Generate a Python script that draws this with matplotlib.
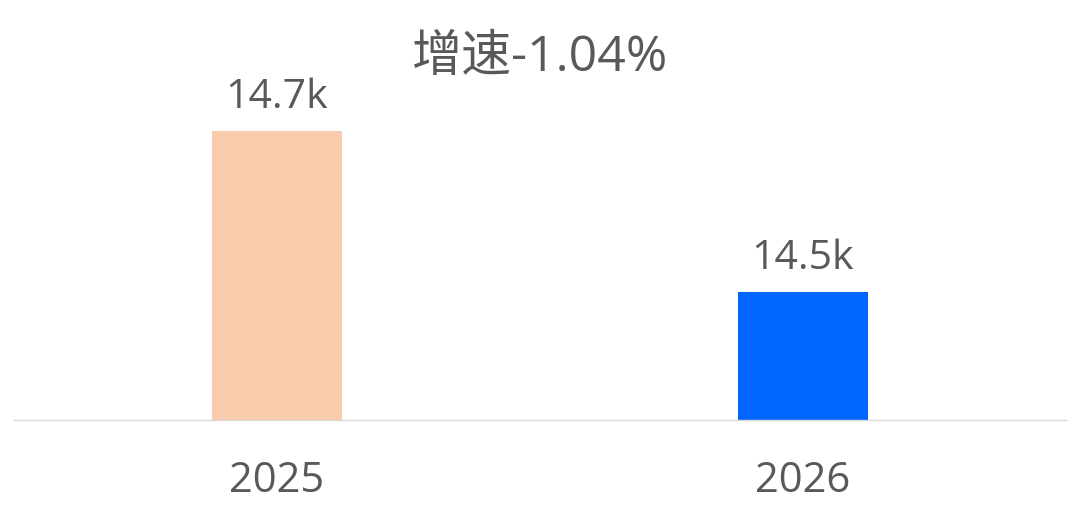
import matplotlib
matplotlib.use('Agg')
import matplotlib.pyplot as plt

years = ['2025', '2026']
values = [14700, 14547]
labels = ['14.7k', '14.5k']
colors = ['#F8CBAD', '#0066FF']
title = '增速-1.04%'

plt.rcParams['font.family'] = ['Open Sans', 'Noto Sans CJK SC', 'DejaVu Sans']
text_color = '#595959'

fig = plt.figure(figsize=(10.8, 5.1), dpi=100)
ax = fig.add_axes([14 / 1080, 89 / 510, 1052 / 1080, 400 / 510])

x = list(range(len(years)))
ax.bar(x, values, width=0.249, color=colors, zorder=2)

# baseline is not zero, scale read from bar heights
base = 14425
per_px = (values[0] - values[1]) / 161
ax.set_ylim(base, base + 400 * per_px)
ax.set_xlim(-0.5, 1.5)

for xi, v, lab in zip(x, values, labels):
    ax.annotate(lab, (xi, v), xytext=(0, 10), textcoords='offset points',
                ha='center', va='bottom', fontsize=29.5, color=text_color)

ax.set_xticks(x)
ax.set_xticklabels(years, fontsize=30, color=text_color)
ax.tick_params(axis='x', length=0, pad=28)
ax.set_yticks([])
for side in ['top', 'right', 'left']:
    ax.spines[side].set_visible(False)
ax.spines['bottom'].set_color('#D9D9D9')
ax.spines['bottom'].set_linewidth(1)

fig.text(0.5, 1 - 58 / 510, title, ha='center', va='center',
         fontsize=36, color=text_color)

fig.savefig('out.png', dpi=100, facecolor='white')
